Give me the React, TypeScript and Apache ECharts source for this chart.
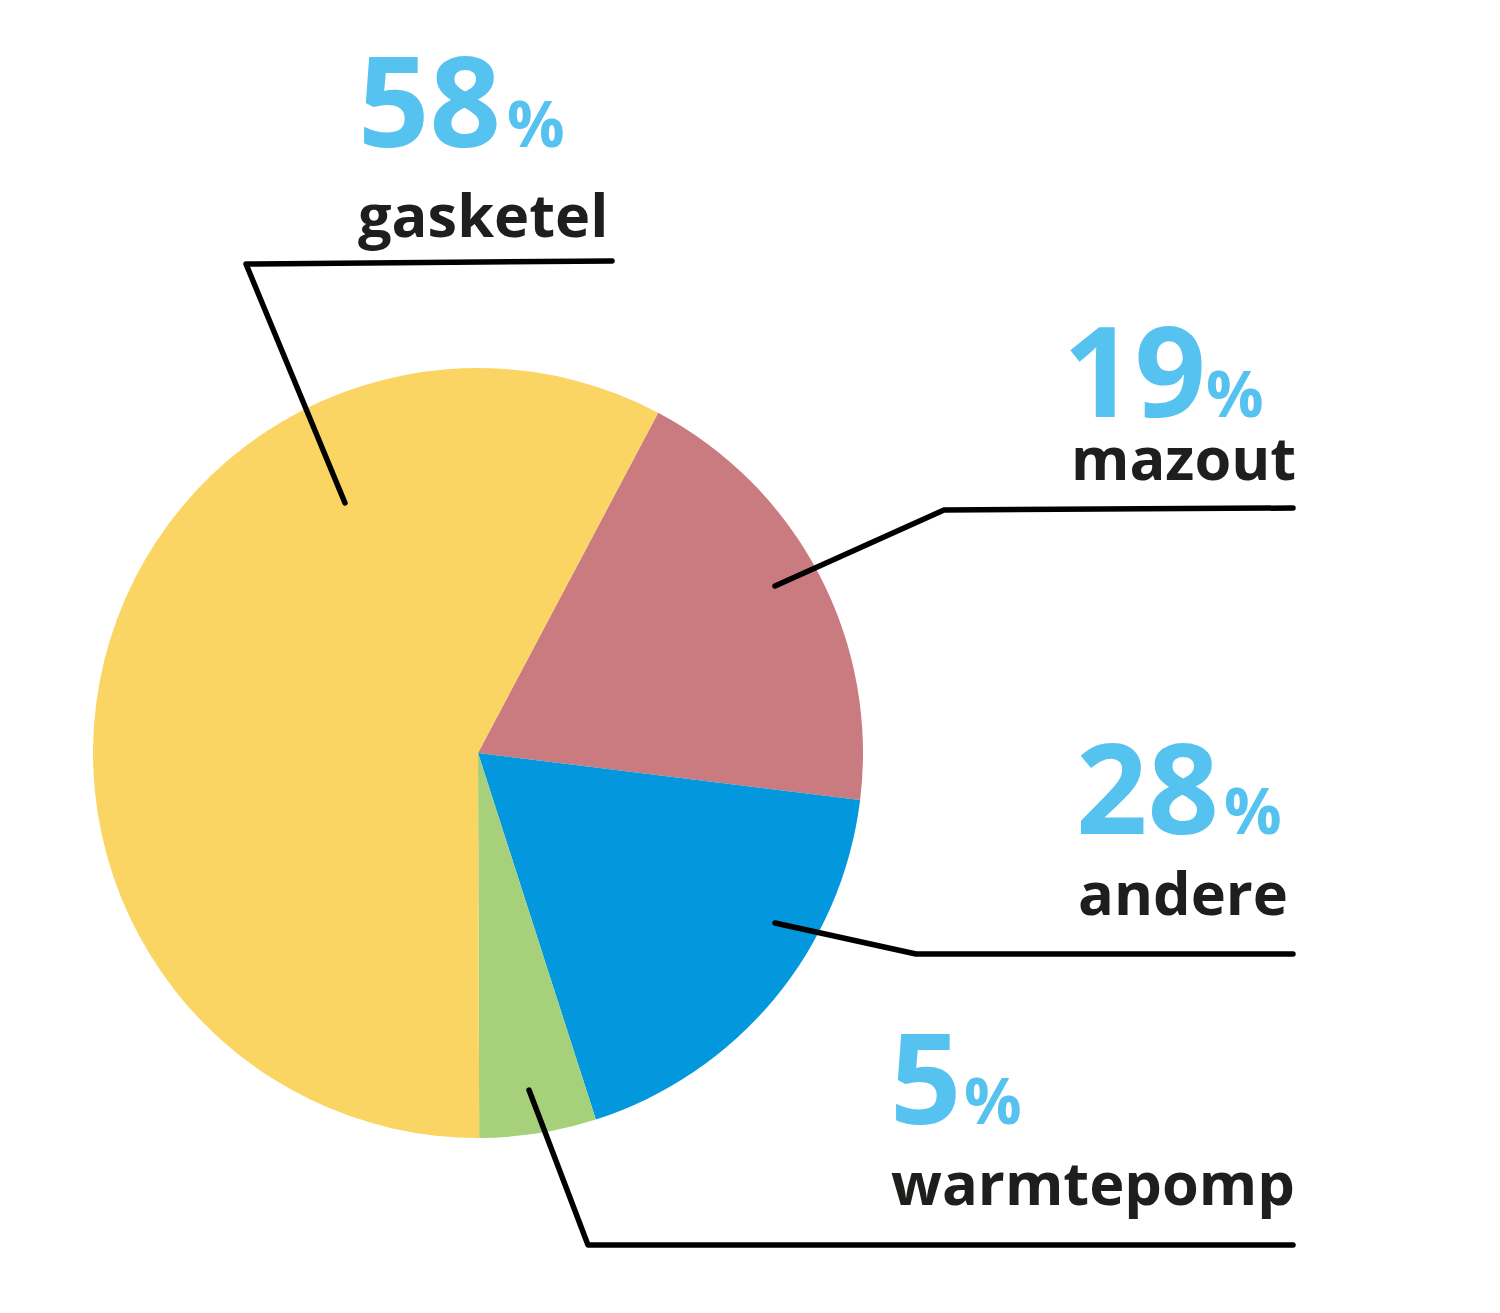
import React, { useEffect, useRef } from "react";
import * as echarts from "echarts";

// Data
const categories = ["mazout", "andere", "warmtepomp", "gasketel"];
const sliceValues = [19.2, 18.1, 4.9, 57.8]; // slice sizes as drawn
const labelPercents = ["19", "28", "5", "58"]; // percentages as printed
const colors = ["#C97B80", "#0398DE", "#A6D07A", "#FBD564"];

// Annotation layout (positions in px)
const numPos = [
  [1063, 418],
  [1076, 835],
  [890, 1125],
  [358, 148],
];
const pctPos = [
  [1206, 418],
  [1224, 835],
  [964, 1125],
  [507, 148],
];
const namePos = [
  [1071, 480],
  [1078, 915],
  [891, 1205],
  [358, 237],
];
const leaderLines = [
  [[1293, 508], [944, 510], [775, 586]],
  [[1293, 954], [916, 954], [775, 923]],
  [[1293, 1245], [588, 1245], [529, 1090]],
  [[612, 261], [246, 264], [345, 503]],
];

const FONT = "'Open Sans', 'Noto Sans', sans-serif";
const NUM_SIZE = 125;
const PCT_SIZE = 64;
const NAME_SIZE = 59.5;
const BASE_K = 0.4;

function textAt(text: string, x: number, baseline: number, size: number, color: string) {
  return {
    type: "text",
    silent: true,
    x,
    y: baseline - size * BASE_K,
    style: {
      text,
      fill: color,
      font: `bold ${size}px ${FONT}`,
      align: "left",
      verticalAlign: "middle",
    },
  };
}

export default function App() {
  const ref = useRef<HTMLDivElement>(null);
  useEffect(() => {
    if (!ref.current) return;
    const chart = echarts.init(ref.current, undefined, { renderer: "svg" });
    const graphics: any[] = [];
    categories.forEach((name, i) => {
      graphics.push({
        type: "polyline",
        silent: true,
        shape: { points: leaderLines[i] },
        style: { stroke: "#000", lineWidth: 5.5, fill: null, lineCap: "round", lineJoin: "round" },
        z: 10,
      });
      graphics.push(textAt(labelPercents[i], numPos[i][0], numPos[i][1], NUM_SIZE, "#56C2F0"));
      graphics.push(textAt("%", pctPos[i][0], pctPos[i][1], PCT_SIZE, "#56C2F0"));
      graphics.push(textAt(name, namePos[i][0], namePos[i][1], NAME_SIZE, "#1E1E1C"));
    });
    chart.setOption({
      animation: false,
      backgroundColor: "#ffffff",
      series: [
        {
          type: "pie",
          center: [478, 753],
          radius: 385,
          startAngle: 62.1,
          clockwise: true,
          silent: true,
          label: { show: false },
          labelLine: { show: false },
          emphasis: { disabled: true },
          itemStyle: { borderWidth: 0 },
          data: categories.map((c, i) => ({
            name: c,
            value: sliceValues[i],
            itemStyle: { color: colors[i] },
          })),
        },
      ],
      graphic: graphics,
    });
    return () => chart.dispose();
  }, []);
  return (
    <div
      ref={ref}
      style={{ position: "fixed", left: 0, top: 0, width: 1500, height: 1313 }}
    />
  );
}
